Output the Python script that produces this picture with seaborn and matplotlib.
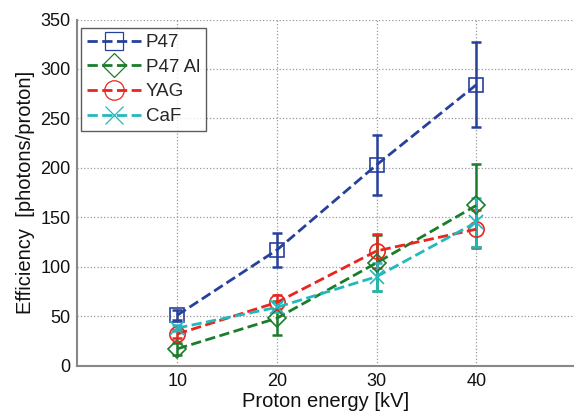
import matplotlib
matplotlib.use("Agg")
import matplotlib.pyplot as plt
from matplotlib.lines import Line2D
import seaborn as sns
import pandas as pd

energy = [10, 20, 30, 40]
series = ["P47", "P47 Al", "YAG", "CaF"]
p47 = [51, 117, 203, 284]
p47_err = [5, 17.5, 30, 43]
p47al = [17, 48, 104, 162]
p47al_err = [6, 17, 28, 42]
yag = [32, 64, 116, 138]
yag_err = [4, 7, 17, 19]
caf = [38, 59, 90, 145]
caf_err = [3, 5, 14, 25]
xticks = [10, 20, 30, 40]
yticks = [0, 50, 100, 150, 200, 250, 300, 350]

colors = ["#27409c", "#1a7d2b", "#e8261e", "#24b8bd"]
markers = ["s", "D", "o", "x"]
msizes = [10, 9, 11, 10]

sns.set_theme(style="white")
plt.rcParams['font.family'] = ['Liberation Sans', 'DejaVu Sans']

fig = plt.figure(figsize=(5.74, 4.15), dpi=100)
ax = fig.add_axes([0.135, 0.1188, 0.865, 0.8342])

vals = [p47, p47al, yag, caf]
errs = [p47_err, p47al_err, yag_err, caf_err]
handles = []
for name, v, e, c, m, ms in zip(series, vals, errs, colors, markers, msizes):
    df = pd.DataFrame({"x": energy, "y": v})
    ax.errorbar(energy, v, yerr=e, fmt="none", ecolor=c, elinewidth=1.8,
                capsize=3.5, capthick=1.8, zorder=3)
    sns.lineplot(data=df, x="x", y="y", ax=ax, color=c, linestyle="--",
                 linewidth=2, marker=m, markersize=ms,
                 markerfacecolor="none", markeredgecolor=c,
                 markeredgewidth=1.2, zorder=4)
    handles.append(Line2D([0], [0], color=c, linestyle="--", linewidth=2,
                          marker=m, markersize=ms + 3, markerfacecolor="none",
                          markeredgecolor=c, markeredgewidth=0.9, label=name))

ax.set_xlim(0, 49.8)
ax.set_ylim(0, 350)
ax.set_xticks(xticks)
ax.set_yticks(yticks)
ax.tick_params(axis="both", labelsize=13, length=0, pad=5, colors="#111111")
ax.grid(True, linestyle=":", color="#999999", linewidth=0.9)
for s in ["top", "right"]:
    ax.spines[s].set_visible(False)
for s in ["left", "bottom"]:
    ax.spines[s].set_color("#888888")
    ax.spines[s].set_linewidth(1.5)
ax.set_xlabel("Proton energy [kV]", fontsize=14.5, labelpad=2, color="#111111")
ax.set_ylabel("Efficiency  [photons/proton]", fontsize=14.5, labelpad=4, color="#111111")

leg = ax.legend(handles=handles, loc="upper left", bbox_to_anchor=(0.0, 0.985),
                fontsize=13.5, frameon=True, fancybox=False, edgecolor="#333333",
                handlelength=2.9, handletextpad=0.25, borderpad=0.3,
                labelspacing=0.4, borderaxespad=0.2)
leg.get_frame().set_linewidth(1.0)

fig.savefig("out.png", dpi=100)
